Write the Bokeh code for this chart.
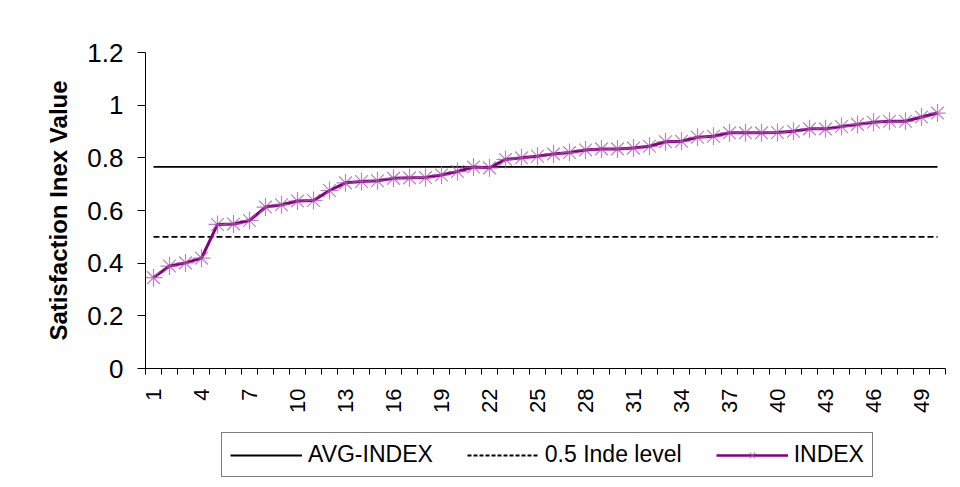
from bokeh.plotting import figure
from bokeh.layouts import column
from bokeh.models import Range1d, FixedTicker, CustomJSTickFormatter, Legend, LegendItem
from bokeh.embed import file_html
from bokeh.resources import INLINE

# ---- data ----
respondents = list(range(1, 51))
index_vals = [0.345, 0.389, 0.401, 0.419, 0.547, 0.549, 0.562, 0.613, 0.622, 0.636,
              0.638, 0.676, 0.705, 0.710, 0.713, 0.722, 0.724, 0.725, 0.735, 0.748,
              0.765, 0.762, 0.794, 0.800, 0.806, 0.815, 0.820, 0.830, 0.834, 0.834,
              0.837, 0.844, 0.861, 0.863, 0.878, 0.882, 0.895, 0.895, 0.895, 0.896,
              0.901, 0.910, 0.910, 0.919, 0.927, 0.935, 0.939, 0.939, 0.955, 0.970]
avg_index = [0.766] * len(respondents)
half_level = [0.5] * len(respondents)
x_tick_labels = list(range(1, 51, 3))
y_ticks = [0, 0.2, 0.4, 0.6, 0.8, 1.0, 1.2]
legend_labels = ["AVG-INDEX", "0.5 Inde level", "INDEX"]

FONT = "Liberation Sans"
PURPLE = "#800080"
MARK = "#b050b0"

p = figure(frame_width=800, frame_height=316, output_backend="svg", toolbar_location=None,
           x_range=Range1d(0.5, 50.5), y_range=Range1d(0, 1.2),
           min_border_left=145, min_border_right=8, min_border_top=52,
           min_border_bottom=62)
p.outline_line_color = None
p.xgrid.grid_line_color = None
p.ygrid.grid_line_color = None
p.background_fill_color = "white"
p.border_fill_color = "white"

# x axis
p.xaxis.ticker = FixedTicker(ticks=x_tick_labels,
                             minor_ticks=[v - 0.5 for v in respondents] + [50.5])
p.xaxis.major_tick_out = 0
p.xaxis.major_tick_in = 0
p.xaxis.minor_tick_out = 6
p.xaxis.minor_tick_in = 0
p.xaxis.minor_tick_line_color = "black"
p.xaxis.major_label_orientation = 3.14159265 / 2
p.xaxis.major_label_standoff = 14
p.xaxis.major_label_text_font = FONT
p.xaxis.major_label_text_font_size = "22px"
p.xaxis.major_label_text_color = "black"
p.xaxis.axis_line_color = "black"

# y axis
p.yaxis.ticker = FixedTicker(ticks=y_ticks, minor_ticks=[])
p.yaxis.formatter = CustomJSTickFormatter(code="return tick.toFixed(1).replace(/\\.0$/, '');")
p.yaxis.major_tick_out = 8
p.yaxis.major_tick_in = 0
p.yaxis.major_label_standoff = 14
p.yaxis.major_label_text_font = FONT
p.yaxis.major_label_text_font_size = "26px"
p.yaxis.major_label_text_color = "black"
p.yaxis.axis_line_color = "black"
p.yaxis.axis_label = "Satisfaction Inex Value"
p.yaxis.axis_label_text_font = FONT
p.yaxis.axis_label_text_font_size = "24px"
p.yaxis.axis_label_text_font_style = "bold"
p.yaxis.axis_label_text_color = "black"
p.yaxis.axis_label_standoff = 12

p.line(respondents, avg_index, line_color="black", line_width=1.8)
p.line(respondents, half_level, line_color="black", line_width=1.8, line_dash="6 3")
p.line(respondents, index_vals, line_color=PURPLE, line_width=3)
p.scatter(respondents, index_vals, marker="asterisk", size=18,
          line_color=MARK, line_alpha=0.75, line_width=1.2)

# ---- legend strip (separate figure below the chart; its data lie outside its view) ----
q = figure(width=953, height=57, output_backend="svg", toolbar_location=None,
           x_range=Range1d(0.5, 50.5), y_range=Range1d(10, 11),
           min_border=0, x_axis_location=None, y_axis_location=None)
q.outline_line_color = None
q.xgrid.grid_line_color = None
q.ygrid.grid_line_color = None
q.border_fill_color = "white"
q.background_fill_color = "white"
la = q.line(respondents, avg_index, line_color="black", line_width=1.8)
lb = q.line(respondents, half_level, line_color="black", line_width=1.8, line_dash="4 2")
lc = q.line(respondents, index_vals, line_color=PURPLE, line_width=2.5)
ld = q.scatter(respondents, index_vals, marker="x", size=14, line_color=MARK,
               line_alpha=0.8, line_width=1.2)

legend = Legend(items=[
    LegendItem(label=legend_labels[0], renderers=[la]),
    LegendItem(label=legend_labels[1], renderers=[lb]),
    LegendItem(label=legend_labels[2], renderers=[lc, ld]),
], orientation="horizontal", location=(76, 10))
legend.label_text_font = FONT
legend.label_text_font_size = "23px"
legend.label_text_color = "black"
legend.glyph_width = 72
legend.label_standoff = 6
legend.spacing = 34
legend.padding = 8
legend.margin = 0
legend.border_line_color = "black"
legend.border_line_width = 1.5
legend.background_fill_color = "white"
legend.background_fill_alpha = 1.0
q.add_layout(legend, "center")

layout = column(p, q, spacing=0)
open("out.html", "w").write(file_html(layout, INLINE))
